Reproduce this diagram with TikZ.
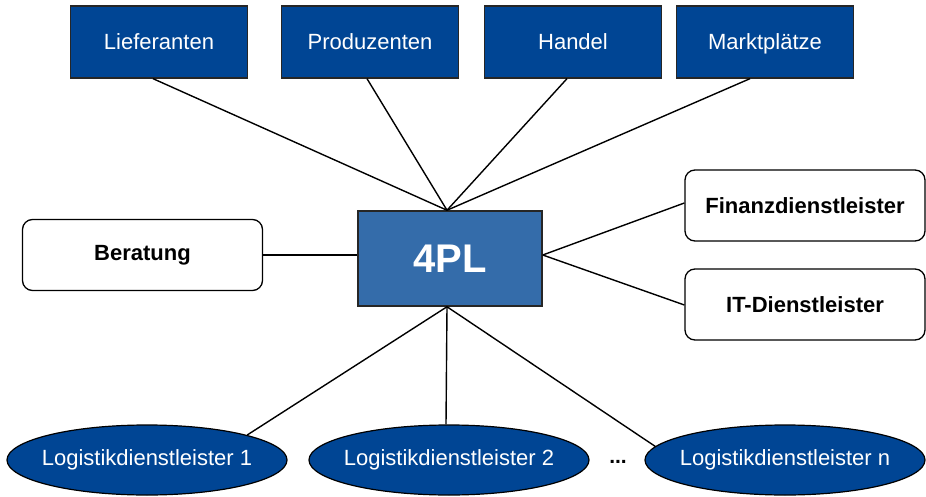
\documentclass[tikz,border=0pt]{standalone}
\usepackage{fontspec}
\setmainfont{Liberation Sans}
\usetikzlibrary{shapes.geometric}
\definecolor{dblue}{RGB}{0,69,148}
\definecolor{mblue}{RGB}{52,108,170}
\begin{document}
\begin{tikzpicture}[x=1pt,y=-1pt,
  topbox/.style={draw=black!85, line width=1.3pt, fill=dblue, text=white,
    minimum width=177pt, minimum height=72pt, inner sep=0pt,
    text height=17pt, text depth=1pt,
    font=\fontsize{22}{24}\selectfont},
  centerbox/.style={draw=black!85, line width=1.5pt, fill=mblue, text=white,
    minimum width=184pt, minimum height=95pt, inner sep=0pt,
    font=\fontsize{40}{44}\selectfont\bfseries},
  sidebox/.style={draw=black, line width=1.3pt, fill=white, rounded corners=10pt,
    minimum width=240pt, minimum height=71pt, inner sep=0pt,
    font=\fontsize{22}{24}\selectfont\bfseries},
  lsp/.style={ellipse, draw=black, line width=1.2pt, fill=dblue,
    minimum width=280pt, minimum height=70pt, inner sep=0pt,
    label={[text=white, font=\fontsize{22}{24}\selectfont]center:#1}},
  conn/.style={draw=black, line width=1.4pt}]
\useasboundingbox (0,0) rectangle (926,497);

\node[topbox] (lief) at (159,42) {Lieferanten};
\node[topbox] (prod) at (370,42) {Produzenten};
\node[topbox] (hand) at (573,42) {Handel};
\node[topbox] (mark) at (765,42) {Marktplätze};

\node[centerbox] (c4pl) at (450,258.5) {4PL};

\node[sidebox] (ber) at (142.5,255) {Beratung};
\node[sidebox] (fin) at (805,205.5) {Finanzdienstleister};
\node[sidebox] (it) at (805,304.5) {IT-Dienstleister};

\node[lsp={Logistikdienstleister 1}] (l1) at (147,460) {};
\node[lsp={Logistikdienstleister 2}] (l2) at (449,460) {};
\node[lsp={Logistikdienstleister n}] (ln) at (785,460) {};
\node[font=\fontsize{21}{24}\selectfont\bfseries] (dots) at (618,462) {...};

\draw[conn] ([xshift=-6pt]lief.south) -- ([xshift=-3pt]c4pl.north);
\draw[conn] ([xshift=-3pt]prod.south) -- ([xshift=-3pt]c4pl.north);
\draw[conn] ([xshift=-6pt]hand.south) -- ([xshift=-3pt]c4pl.north);
\draw[conn] ([xshift=-15pt]mark.south) -- ([xshift=-3pt]c4pl.north);

\draw[conn] (ber.east) -- (c4pl.west |- ber.east);
\draw[conn] (c4pl.east |- ber.east) -- ([yshift=2.5pt]fin.west);
\draw[conn] (c4pl.east |- ber.east) -- ([yshift=-0.5pt]it.west);

\draw[conn] ([xshift=-3pt]c4pl.south) -- (l1.14);
\draw[conn] ([xshift=-3pt]c4pl.south) -- ([xshift=-3pt]l2.north);
\draw[conn] ([xshift=-3pt]c4pl.south) -- (ln.174);
\end{tikzpicture}
\end{document}
